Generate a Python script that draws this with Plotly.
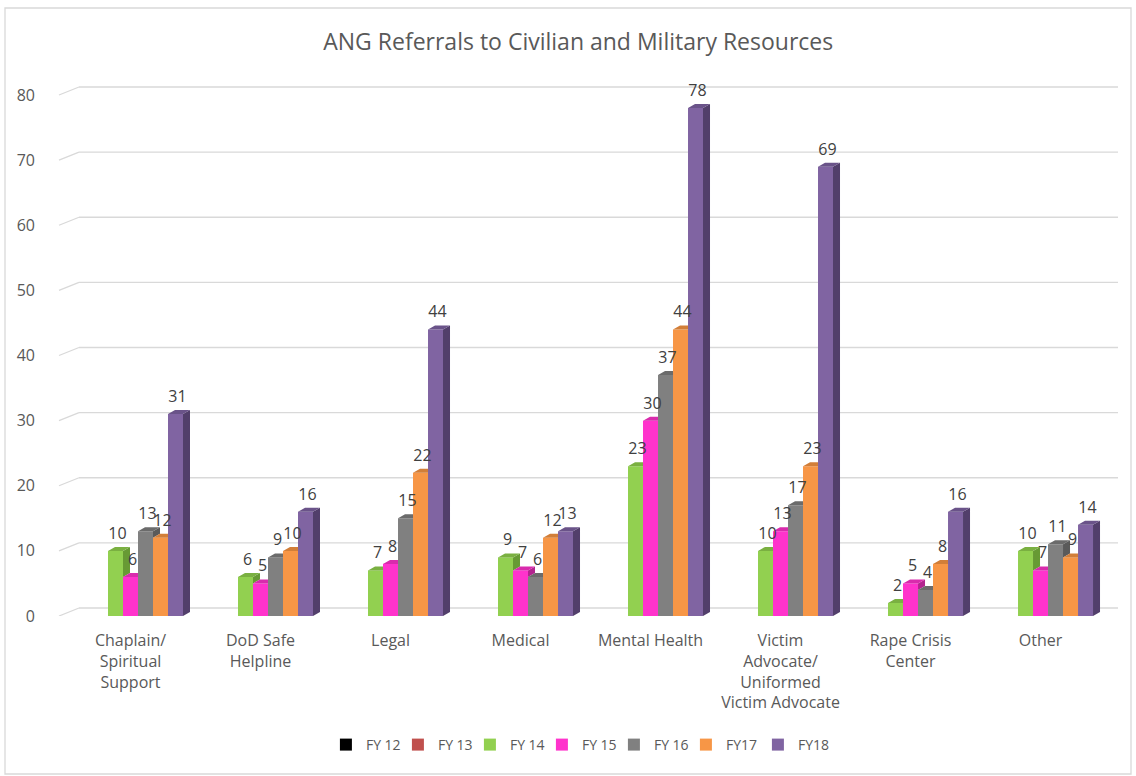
import plotly.graph_objects as go

# categories on the x axis
categories = [
    "Chaplain/<br>Spiritual<br>Support",
    "DoD Safe<br>Helpline",
    "Legal",
    "Medical",
    "Mental Health",
    "Victim<br>Advocate/<br>Uniformed<br>Victim Advocate",
    "Rape Crisis<br>Center",
    "Other",
]

# referral counts per fiscal year
fy12 = [0, 0, 0, 0, 0, 0, 0, 0]
fy13 = [0, 0, 0, 0, 0, 0, 0, 0]
fy14 = [10, 6, 7, 9, 23, 10, 2, 10]
fy15 = [6, 5, 8, 7, 30, 13, 5, 7]
fy16 = [13, 9, 15, 6, 37, 17, 4, 11]
fy17 = [12, 10, 22, 12, 44, 23, 8, 9]
fy18 = [31, 16, 44, 13, 78, 69, 16, 14]

series_names = ["FY 12", "FY 13", "FY 14", "FY 15", "FY 16", "FY17", "FY18"]
series_values = [fy12, fy13, fy14, fy15, fy16, fy17, fy18]

# front / side / top face colours
front_colors = ["#000000", "#C0504D", "#92D050", "#FF33CC", "#808080", "#F79646", "#8064A2"]
side_colors = [None, None, "#679A34", "#B3248F", "#5A5A5A", "#B36A2F", "#523F6B"]
top_colors = [None, None, "#7AB041", "#D92BAD", "#6B6B6B", "#D27E38", "#6A5389"]

# geometry (axis units)
X_RANGE = [-0.55, 7.596]
Y_RANGE = [0, 82]
PLOT_W, PLOT_H = 1059, 534
px_x = (X_RANGE[1] - X_RANGE[0]) / PLOT_W
px_y = (Y_RANGE[1] - Y_RANGE[0]) / PLOT_H
bar_w = 15 * px_x
depth_x = 7 * px_x
depth_y = 4 * px_y
grid_dx = 20 / PLOT_W
grid_dy = 8 * px_y

fig = go.Figure()

n_series = len(series_values)
positions = []
for j in range(n_series):
    positions.append([k + (j - 3) * bar_w for k in range(len(categories))])

# front faces
for j, (name, vals) in enumerate(zip(series_names, series_values)):
    fig.add_trace(go.Bar(
        x=positions[j], y=vals, width=bar_w, name=name,
        marker=dict(color=front_colors[j], line=dict(width=0)),
    ))

# side and top faces, clipped by the neighbouring bar
for j in range(n_series):
    if side_colors[j] is None:
        continue
    vals = series_values[j]
    nxt = series_values[j + 1] if j + 1 < n_series else None
    sx, sy, tx, ty = [], [], [], []
    for k, v in enumerate(vals):
        if v <= 0:
            continue
        xl = positions[j][k] - bar_w / 2
        xr = positions[j][k] + bar_w / 2
        base = nxt[k] if nxt is not None else 0
        if base < v:
            sx += [xr, xr + depth_x, xr + depth_x, xr, xr, None]
            sy += [base, base + depth_y, v + depth_y, v, base, None]
            tx += [xl, xr, xr + depth_x, xl + depth_x, xl, None]
            ty += [v, v, v + depth_y, v + depth_y, v, None]
        else:
            tx += [xl, xr, xr, xl + depth_x, xl, None]
            ty += [v, v, v + depth_y, v + depth_y, v, None]
    fig.add_trace(go.Scatter(x=sx, y=sy, mode="lines", fill="toself", fillcolor=side_colors[j],
                             line=dict(width=0), showlegend=False, hoverinfo="skip"))
    fig.add_trace(go.Scatter(x=tx, y=ty, mode="lines", fill="toself", fillcolor=top_colors[j],
                             line=dict(width=0), showlegend=False, hoverinfo="skip"))

# data labels
label_dy = depth_y + 4 * px_y
for j in range(2, n_series):
    vals = series_values[j]
    fig.add_trace(go.Scatter(
        x=[p + 2 * px_x for p in positions[j]], y=[v + label_dy for v in vals],
        mode="text", text=[str(v) for v in vals], textposition="top center",
        textfont=dict(size=16, color="#404040", family="Open Sans"),
        showlegend=False, hoverinfo="skip", cliponaxis=False,
    ))

# back-wall gridlines with slanted stubs
shapes = []
for v in range(0, 81, 10):
    shapes.append(dict(type="line", xref="paper", yref="y", x0=0, y0=v, x1=grid_dx, y1=v + grid_dy,
                       line=dict(color="#D9D9D9", width=1.3), layer="below"))
    shapes.append(dict(type="line", xref="paper", yref="y", x0=grid_dx, y0=v + grid_dy, x1=1, y1=v + grid_dy,
                       line=dict(color="#D9D9D9", width=1.3), layer="below"))
# chart border
shapes.append(dict(type="rect", xref="paper", yref="paper",
                   x0=(5 - 59) / PLOT_W, x1=(1131 - 59) / PLOT_W,
                   y0=(616 - 774) / PLOT_H, y1=(616 - 8) / PLOT_H,
                   line=dict(color="#D9D9D9", width=1.3), layer="below"))

fig.update_layout(
    width=1136, height=776,
    margin=dict(l=59, r=18, t=82, b=160),
    paper_bgcolor="white", plot_bgcolor="white",
    barmode="overlay",
    font=dict(family="Open Sans", color="#595959"),
    title=dict(text="ANG Referrals to Civilian and Military Resources", x=0.509, y=1 - 42 / 776,
               xanchor="center", yanchor="middle", font=dict(size=23, color="#595959")),
    xaxis=dict(range=X_RANGE, tickmode="array", tickvals=list(range(len(categories))), ticktext=categories,
               showgrid=False, zeroline=False, showline=False, ticks="", ticklabelstandoff=13,
               tickfont=dict(size=16, color="#595959")),
    yaxis=dict(range=Y_RANGE, tickmode="array", tickvals=list(range(0, 81, 10)), showgrid=False,
               zeroline=False, showline=False, ticks="", ticklabelstandoff=23,
               tickfont=dict(size=16, color="#595959")),
    legend=dict(orientation="h", x=0.49, xanchor="center", y=(616 - 745) / PLOT_H, yanchor="middle",
                font=dict(size=14, color="#595959"), traceorder="normal",
                entrywidth=27, entrywidthmode="pixels"),
    shapes=shapes,
)

fig.write_html("out.html", config={"displayModeBar": False},
               post_script="document.body.style.margin='0px';")
